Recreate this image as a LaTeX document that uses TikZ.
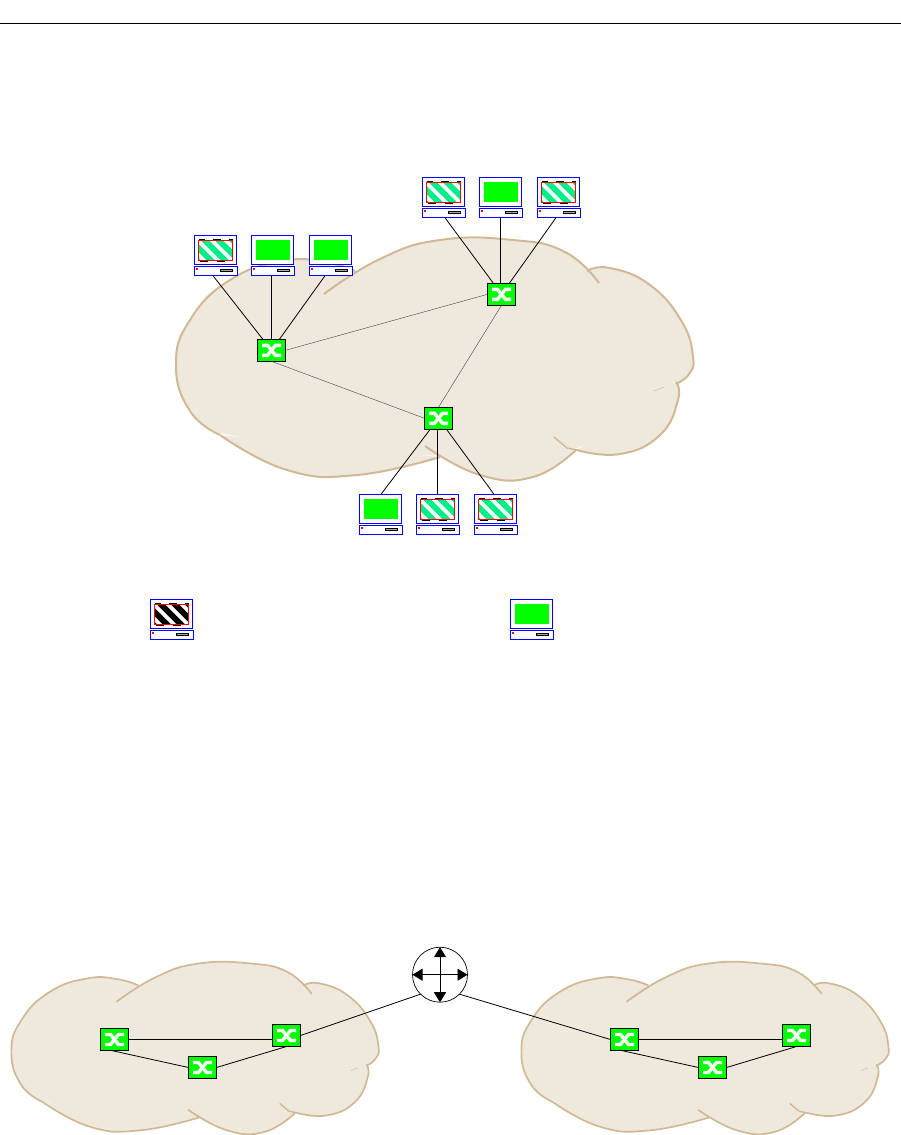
\documentclass[tikz,border=0pt]{standalone}
\usetikzlibrary{arrows.meta}
\definecolor{cloudin}{HTML}{EFE9DD}
\definecolor{cloudout}{HTML}{D0B994}
\definecolor{swgreen}{HTML}{00FF00}
\definecolor{stripegreen}{HTML}{00EE88}
\tikzset{
  switchbox/.style={draw=black,fill=swgreen,line width=0.9pt,minimum width=28pt,minimum height=22pt,inner sep=0pt,outer sep=0pt},
  pcbox/.style={minimum width=43.4pt,minimum height=40.4pt,inner sep=0pt,outer sep=0pt},
  routerbox/.style={draw=black,fill=white,circle,line width=0.7pt,minimum size=55pt,inner sep=0pt,outer sep=0pt},
  uplink/.style={black,line width=0.8pt},
  backbone/.style={black!75,line width=0.4pt},
  pics/pcbody/.style={code={
    \draw[blue,line width=1pt,fill=white] (-21.7,-20.2) rectangle (20.3,8.8);
    \draw[blue,line width=1pt,fill=white] (-21.7,11) rectangle (21.7,20.2);
    \fill[red] (-19.7,12.8) rectangle (-18,14.2);
    \draw[black,line width=0.6pt,fill=black!35] (4.3,13.8) rectangle (16.7,16.2);
  }},
  pics/pcgreen/.style={code={
    \pic {pcbody};
    \fill[swgreen] (-17.3,-15.5) rectangle (16.7,4.8);
  }},
  pics/pcstripe/.style={code={
    \pic {pcbody};
    \begin{scope}
      \clip (-17.3,-15.5) rectangle (16.7,4.8);
      \foreach \s in {-41,-27,-13,1,15} {
        \draw[#1,line width=6pt] (\s,-17) -- ++(30,30);
      }
    \end{scope}
    % black ticks on the frame
    \foreach \a/\b in {-17.3/-10.6,-3.3/5.4,12.7/16.7} {
      \draw[black,line width=0.9pt] (\a,-16.2) -- (\b,-16.2);
    }
    \foreach \a/\b in {-15.6/-8.3,0.7/9.4} {
      \draw[black,line width=0.9pt] (\a,5.5) -- (\b,5.5);
    }
    \draw[black,line width=0.9pt] (16,-10) -- (16,-3);
    \draw[red,line width=0.9pt] (-17.3,-15.5) rectangle (16.7,4.8);
  }},
  pics/xglyph/.style={code={
    \draw[white,line width=3.4pt] (-9.5,-5) -- (-4,-5) -- (4,5) -- (9.5,5);
    \draw[white,line width=3.4pt] (-9.5,5) -- (-4,5) -- (4,-5) -- (9.5,-5);
  }},
}
\newcommand{\cloudlobes}{%
  \lobe{(220,435) (190,411) (176,365) (190,320) (230,280) (283,261) (325,262) (355,271)}
  \lobe{(324,294) (380,259) (440,240) (513,240) (565,252) (599,283)}
  \lobe{(587,271) (610,268) (650,285) (682,322) (693,357) (689,374) (676,384)}
  \lobe{(676,382) (678,400) (660,435) (620,454) (577,450)}
  \draw[cloudout,line width=1.4pt] (577,450) -- (567,448) -- (554,437);
  \lobe{(576,450) (533,477) (480,475) (425,446)}
  \lobe{(440,457) (357,475) (287,470) (220,435)}
}
\newcommand{\cloudshape}[1]{%
  \def\lobe##1{\fill[cloudin] plot[smooth,tension=0.8] coordinates {##1};}
  \cloudlobes
  \filldraw[cloudin,line width=3pt,line join=round] (222,432) -- (250,300) -- (356,274) -- (587,274) -- (640,330) -- (673,384) -- (635,420) -- (576,447) -- (500,458) -- (440,454) -- (330,452) -- cycle;
  \def\lobe##1{\draw[cloudout,line width=#1] plot[smooth,tension=0.8] coordinates {##1};}
  \cloudlobes
  \draw[cloudout,line width=0.5pt] (654,391) -- (664,387);
}
\begin{document}
\begin{tikzpicture}[x=1pt,y=-1pt]
  \useasboundingbox (0,0) rectangle (901,1135);
  \coordinate (ruleL) at (0,23.6);
  \coordinate (ruleR) at (901,23.6);
  \draw[black,line width=0.6pt] (ruleL) -- (ruleR);

  % clouds
  \cloudshape{2pt}
  \begin{scope}[shift={(-113.6,793.1)},scale=0.71]
    \cloudshape{1.7pt}
  \end{scope}
  \begin{scope}[shift={(396.4,793.1)},scale=0.71]
    \cloudshape{1.7pt}
  \end{scope}

  % switches
  \foreach \name/\x/\y in {swT/501.5/294.3,swL/271.5/350.3,swB/438.5/418.3,
      aS/114.5/1039.5,aM/202.5/1067.5,aE/286.5/1035.5,
      bS/624.5/1039.5,bM/712.5/1067.5,bE/796.5/1035.5} {
    \node[switchbox] (\name) at (\x,\y) {};
    \pic at (\name) {xglyph};
  }

  % computers
  \foreach \name/\x/\y in {pcT2/501/197.5,pcL2/273/255.5,pcL3/331/255.5,pcB1/381/514.5,legG/532/619.5} {
    \node[pcbox] (\name) at (\x,\y) {};
    \pic at (\name) {pcgreen};
  }
  \foreach \name/\x/\y in {pcT1/444/197.5,pcT3/559/197.5,pcL1/216/255.5,pcB2/438/514.5,pcB3/496/514.5} {
    \node[pcbox] (\name) at (\x,\y) {};
    \pic at (\name) {pcstripe=stripegreen};
  }
  \node[pcbox] (legB) at (172,619.5) {};
  \pic at (legB) {pcstripe=black};

  % access links
  \draw[uplink] ([xshift=1pt]pcT1.south) -- (swT);
  \draw[uplink] ([xshift=-0.7pt]pcT2.south) -- ([xshift=-0.7pt]pcT2.south |- swT.north);
  \draw[uplink] ([xshift=-3pt]pcT3.south) -- (swT);
  \draw[uplink] ([xshift=-3pt]pcL1.south) -- (swL);
  \draw[uplink] ([xshift=-1.7pt]pcL2.south) -- ([xshift=-1.7pt]pcL2.south |- swL.north);
  \draw[uplink] ([xshift=-6pt]pcL3.south) -- (swL);
  \draw[uplink] (pcB1.north) -- (swB);
  \draw[uplink] ([xshift=-1pt]pcB2.north) -- ([xshift=-1pt]pcB2.north |- swB.south);
  \draw[uplink] ([xshift=-2pt]pcB3.north) -- (swB);

  % backbone
  \draw[backbone] (swL.east) -- (swT.west);
  \draw[backbone] (swL.south) -- (swB.west);
  \draw[backbone] (swT.south) -- (swB.north);

  % router
  \node[routerbox] (router) at (440,974.7) {};
  \foreach \tip in {north,south,east,west} {
    \draw[black,line width=0.7pt,-{Triangle[length=10pt,width=12pt]}] (router.center) -- (router.\tip);
  }

  % lower links
  \foreach \p in {a,b} {
    \draw[uplink] (\p S) -- (\p S -| \p E.west);
    \draw[uplink] ([xshift=-3pt]\p S.south) -- (\p M.west);
    \draw[uplink] (\p M.east) -- (\p E.south);
  }
  \draw[uplink] (aE.east) -- (router.225);
  \draw[uplink] (router.315) -- (bS.west);
\end{tikzpicture}
\end{document}
